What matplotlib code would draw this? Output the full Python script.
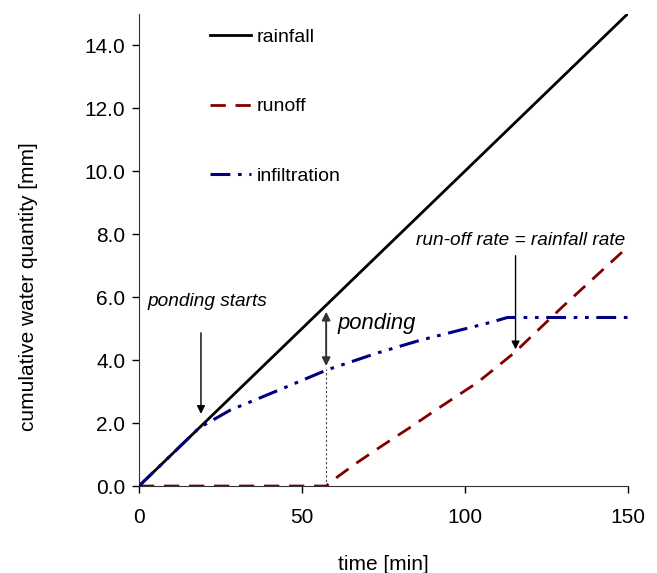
import matplotlib
matplotlib.use("Agg")
import matplotlib.pyplot as plt
import numpy as np

plt.rcParams["font.family"] = ["Liberation Sans", "DejaVu Sans"]

# data
rain_t = [0, 150]
rain_mm = [0.0, 15.0]

runoff_t = [0, 57.4, 61, 67, 74, 83, 92, 104, 115, 130, 150]
runoff_mm = [0.0, 0.0, 0.3, 0.75, 1.24, 1.85, 2.48, 3.3, 4.22, 5.7, 7.6]

infil_t = [0, 18.5, 28, 43, 57.5, 73, 86, 98.5, 108, 113, 150]
infil_mm = [0.0, 1.85, 2.41, 3.05, 3.68, 4.22, 4.62, 4.95, 5.2, 5.35, 5.35]

x_ticks = [0, 50, 100, 150]
y_ticks = [0, 2, 4, 6, 8, 10, 12, 14]

fig = plt.figure(figsize=(6.57, 5.73), dpi=100)
ax = fig.add_axes([0.2116, 0.1518, 0.7443, 0.8246])

ax.plot(rain_t, rain_mm, color="black", lw=2, label="rainfall", zorder=3)
ax.plot(runoff_t, runoff_mm, color="#800000", lw=2, dashes=(5.5, 3.5), label="runoff", zorder=4)
ax.plot(infil_t, infil_mm, color="#000080", lw=2.2,
        dashes=(6.5, 2.5, 1.2, 2.5, 1.2, 2.5), label="infiltration", zorder=5)

ax.set_xlim(0, 150)
ax.set_ylim(0, 15)
ax.set_xticks(x_ticks)
ax.set_yticks(y_ticks)
ax.set_yticklabels([f"{v:.1f}" for v in y_ticks])
ax.tick_params(labelsize=15, direction="out", length=5, width=1, pad=5)
ax.tick_params(axis="x", pad=11)
for s in ["top", "right"]:
    ax.spines[s].set_visible(False)
for s in ["left", "bottom"]:
    ax.spines[s].set_color("#333333")

ax.set_xlabel("time [min]", fontsize=15, labelpad=20)
ax.set_ylabel("cumulative water quantity [mm]", fontsize=15, labelpad=33, y=0.423)

ax.legend(loc="upper left", bbox_to_anchor=(0.145, 0.968), frameon=False,
          fontsize=14, handlelength=2.1, handletextpad=0.3, labelspacing=2.65,
          borderaxespad=0, borderpad=0)

# annotations
ax.text(2.5, 5.7, "ponding starts", fontsize=13.7, style="italic")
ax.annotate("", xy=(19, 2.2), xytext=(19, 4.95),
            arrowprops=dict(arrowstyle="-|>", color="black", lw=1, mutation_scale=12))

ax.plot([57.4, 57.4], [0, 3.7], color="#444444", lw=0.8, ls=(0, (2, 2)))
ax.annotate("", xy=(57.4, 3.72), xytext=(57.4, 5.62),
            arrowprops=dict(arrowstyle="<|-|>", color="#333333", lw=1.4, mutation_scale=12))
ax.text(61, 5.0, "ponding", fontsize=15.8, style="italic")

ax.text(85, 7.65, "run-off rate = rainfall rate", fontsize=13.7, style="italic")
ax.annotate("", xy=(115.5, 4.25), xytext=(115.5, 7.4),
            arrowprops=dict(arrowstyle="-|>", color="black", lw=1, mutation_scale=12))

fig.savefig("out.png", dpi=100)
